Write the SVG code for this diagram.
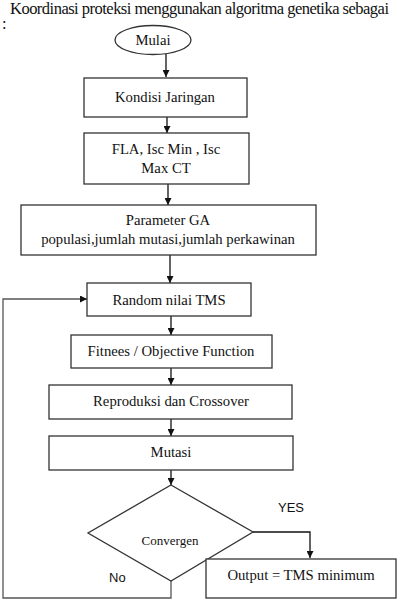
<svg xmlns="http://www.w3.org/2000/svg" width="405" height="604" viewBox="0 0 405 604">
<style>
.box{fill:#fff;stroke:#333;stroke-width:1.3}
.t{font-family:"Liberation Serif","Times New Roman","DejaVu Serif",serif;font-size:14.7px;fill:#111;text-anchor:middle}
.s{font-family:"Liberation Sans",Arial,sans-serif;font-size:13px;fill:#111}
.c{fill:none;stroke:#111;stroke-width:1.3}
.g{fill:none;stroke:#555;stroke-width:1.3}
</style>
<defs>
<marker id="ah" viewBox="0 0 10 10" refX="10" refY="5" markerWidth="7" markerHeight="7" markerUnits="userSpaceOnUse" orient="auto">
<path d="M0,0 L10,5 L0,10 Z" fill="#111"/>
</marker>
</defs>
<rect width="405" height="604" fill="#fff"/>
<text x="10" y="14" font-family="Liberation Serif, Times New Roman, serif" font-size="16.5" fill="#111" textLength="379" lengthAdjust="spacing">Koordinasi proteksi menggunakan algoritma genetika sebagai</text>
<text x="2" y="29" font-family="Liberation Serif, Times New Roman, serif" font-size="16.5" fill="#111">:</text>

<g id="connectors">
<line class="c" x1="166" y1="54" x2="166" y2="77" marker-end="url(#ah)"/>
<line class="c" x1="167" y1="117" x2="167" y2="133" marker-end="url(#ah)"/>
<line class="c" x1="168" y1="184" x2="168" y2="205" marker-end="url(#ah)"/>
<line class="c" x1="170" y1="255" x2="170" y2="283" marker-end="url(#ah)"/>
<line class="c" x1="171" y1="316" x2="171" y2="335" marker-end="url(#ah)"/>
<line class="c" x1="171" y1="368" x2="171" y2="385" marker-end="url(#ah)"/>
<line class="c" x1="171" y1="419" x2="171" y2="436" marker-end="url(#ah)"/>
<line class="c" x1="171" y1="470" x2="171" y2="485" marker-end="url(#ah)"/>
<polyline class="c" points="253,532 310,532 310,558" marker-end="url(#ah)"/>
<polyline class="g" points="171,581 171,598 3,598 3,299 87,299" marker-end="url(#ah)"/>
</g>

<g id="mulai">
<ellipse class="box" cx="153" cy="40" rx="38" ry="14.5"/>
<text class="t" x="153" y="45">Mulai</text>
</g>
<g id="kondisi">
<rect class="box" x="84" y="78" width="163" height="39"/>
<text class="t" x="165" y="102">Kondisi Jaringan</text>
</g>
<g id="fla">
<rect class="box" x="84" y="133" width="165" height="51"/>
<text class="t" x="166" y="154">FLA, Isc Min , Isc</text>
<text class="t" x="166" y="173">Max CT</text>
</g>
<g id="parameter">
<rect class="box" x="21" y="205" width="295" height="50"/>
<text class="t" x="168" y="225">Parameter GA</text>
<text class="t" x="168" y="244">populasi,jumlah mutasi,jumlah perkawinan</text>
</g>
<g id="random">
<rect class="box" x="87" y="283" width="164" height="33"/>
<text class="t" x="169" y="305">Random nilai TMS</text>
</g>
<g id="fitnees">
<rect class="box" x="71" y="335" width="201" height="33"/>
<text class="t" x="171" y="356">Fitnees / Objective Function</text>
</g>
<g id="reproduksi">
<rect class="box" x="49" y="385" width="243" height="34"/>
<text class="t" x="171" y="406">Reproduksi dan Crossover</text>
</g>
<g id="mutasi">
<rect class="box" x="49" y="436" width="244" height="34"/>
<text class="t" x="171" y="457">Mutasi</text>
</g>
<g id="convergen">
<polygon class="box" points="171,485 253,532 171,581 88,533"/>
<text class="t" x="170" y="545" style="font-size:13px">Convergen</text>
</g>
<g id="output">
<rect class="box" x="206" y="559" width="190" height="39"/>
<text class="t" x="301" y="580">Output = TMS minimum</text>
</g>
<text class="s" x="278" y="512">YES</text>
<text class="s" x="109" y="582">No</text>
</svg>
